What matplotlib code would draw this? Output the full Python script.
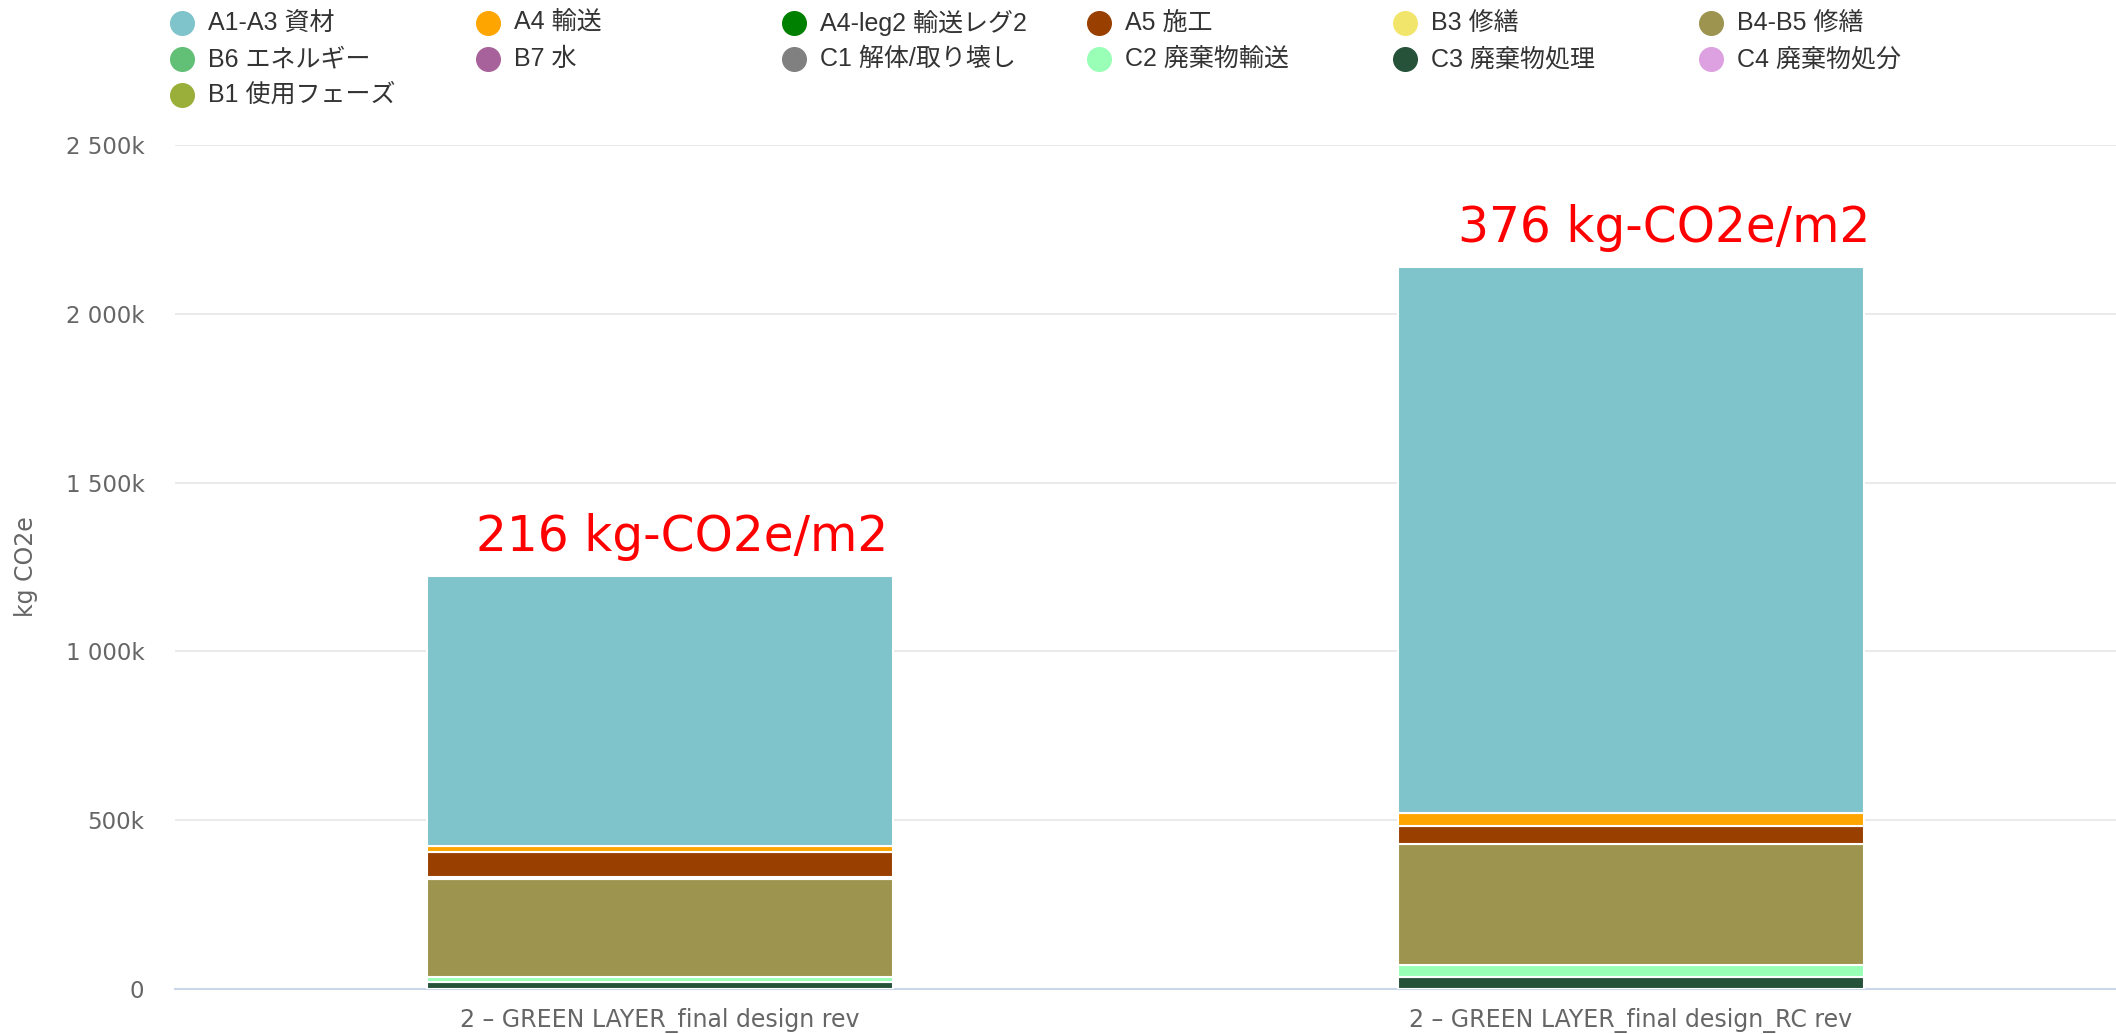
import matplotlib.pyplot as plt
from matplotlib.lines import Line2D
from matplotlib.ticker import FuncFormatter

plt.rcParams['font.family'] = ['DejaVu Sans', 'Noto Sans CJK JP']

projects = ['2 – GREEN LAYER_final design rev', '2 – GREEN LAYER_final design_RC rev']
series = ['A1-A3 資材', 'A4 輸送', 'A4-leg2 輸送レグ2', 'A5 施工', 'B3 修繕', 'B4-B5 修繕',
          'B6 エネルギー', 'B7 水', 'C1 解体/取り壊し', 'C2 廃棄物輸送', 'C3 廃棄物処理',
          'C4 廃棄物処分', 'B1 使用フェーズ']
colors = ['#7fc3cb', '#ffa500', '#008000', '#994000', '#f2e56c', '#9d944f',
          '#62bf76', '#a8629b', '#808080', '#99ffb6', '#26523a', '#dda0e0', '#9aaf3a']

# kg CO2e, one value per project
a1_a3 = [798000, 1616000]
a4 = [18000, 39000]
a4_leg2 = [0, 0]
a5 = [74000, 52000]
b3 = [8000, 0]
b4_b5 = [288000, 361000]
b6 = [0, 0]
b7 = [0, 0]
c1 = [0, 0]
c2 = [15000, 35000]
c3 = [22000, 35000]
c4 = [0, 0]
b1 = [0, 0]
values = [a1_a3, a4, a4_leg2, a5, b3, b4_b5, b6, b7, c1, c2, c3, c4, b1]

intensity = ['216 kg-CO2e/m2', '376 kg-CO2e/m2']

fig = plt.figure(figsize=(21.16, 10.34), dpi=100)
ax = fig.add_axes([0.0827, 0.0435, 0.9173, 0.8163])

x = list(range(len(projects)))
bottom = [0, 0]
# first series sits on top, so stack from the last one up
for name, col, vals in reversed(list(zip(series, colors, values))):
    lw = [1.5 if v > 0 else 0 for v in vals]
    ax.bar(x, vals, width=0.48, bottom=bottom, color=col, edgecolor='white',
           linewidth=lw, zorder=3)
    bottom = [b + v for b, v in zip(bottom, vals)]

for i, txt in enumerate(intensity):
    ax.annotate(txt, xy=(i, bottom[i]), xytext=(16 + 8 * i, 18),
                textcoords='offset points', ha='center', va='baseline',
                color='#ff0000', fontsize=35)

ax.set_xlim(-0.5, 1.5)
ax.set_ylim(0, 2500000)
ax.set_yticks(range(0, 2500001, 500000))
ax.yaxis.set_major_formatter(FuncFormatter(
    lambda v, p: '0' if v == 0 else f'{v / 1000:,.0f}k'.replace(',', ' ')))
ax.set_xticks(x)
ax.set_xticklabels(projects)
ax.tick_params(axis='y', length=0, pad=22, labelcolor='#666666', labelsize=16.5)
ax.tick_params(axis='x', length=0, pad=14, labelcolor='#666666', labelsize=17)
ax.set_ylabel('kg CO2e', color='#666666', fontsize=17, labelpad=20)
ax.grid(axis='y', color='#e6e6e6', linewidth=1.2, zorder=0)
for s in ['top', 'right', 'left']:
    ax.spines[s].set_visible(False)
ax.spines['bottom'].set_color('#ccd6eb')
ax.spines['bottom'].set_linewidth(1.5)

# legend laid out in rows like the original
for i, (name, col) in enumerate(zip(series, colors)):
    r, c = divmod(i, 6)
    lx = (182 + c * 305.8) / 2116
    ly = 1 - (23 + r * 36) / 1034
    fig.add_artist(Line2D([lx], [ly], marker='o', markersize=17, color=col,
                          linestyle='none', transform=fig.transFigure))
    fig.text(lx + 26 / 2116, ly, name, va='center', ha='left', fontsize=18,
             color='#333333', family=['Liberation Sans', 'Noto Sans CJK JP'])

fig.savefig('out.png', dpi=100)
